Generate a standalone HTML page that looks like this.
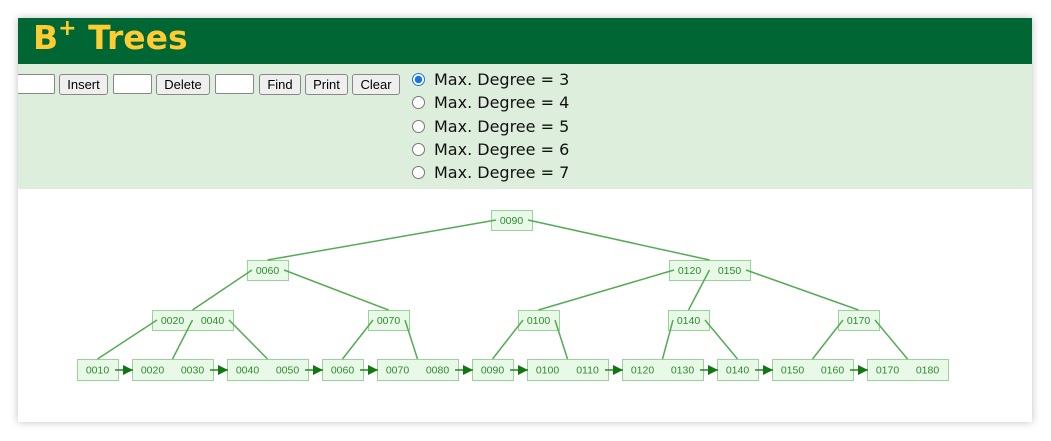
<!DOCTYPE html>
<html><head><meta charset="utf-8"><style>
body{margin:0;width:1051px;height:441px;background:#fff;position:relative;overflow:hidden;font-family:"Liberation Sans",sans-serif}
#card{position:absolute;left:18px;top:18px;width:1014px;height:404px;background:#fff;box-shadow:0 0 8px rgba(0,0,0,.25);overflow:hidden}
#hdr{position:absolute;left:0;top:0;width:1014px;height:46px;background:#006633}
#hdr h1{margin:0;position:absolute;left:15px;top:-6px;color:#ffcc33;font-size:33px;font-weight:bold;line-height:38px;font-family:"DejaVu Sans","Liberation Sans",sans-serif}
#hdr sup{font-size:22px;position:relative;top:-2px}
#ctl{position:absolute;left:0;top:46px;width:1014px;height:125px;background:#ddeedd;overflow:hidden}
.in{position:absolute;top:10px;height:20px;background:#fff;border:1px solid #888;border-radius:2px;box-sizing:border-box}
.bt{position:absolute;top:10px;height:21px;background:#efefef;border:1px solid #888;border-radius:3px;box-sizing:border-box;font-size:13px;line-height:19px;text-align:center;color:#000}
.r{position:absolute;left:394px;font-size:16px;color:#111;height:20px;line-height:20px;font-family:"DejaVu Sans",sans-serif}
.r i{position:absolute;left:0;top:3px;width:11px;height:11px;border:1px solid #777;border-radius:50%;background:#fff}
.r span{position:absolute;left:22px;white-space:nowrap}
</style></head><body>
<div id="card">
<div id="hdr"><h1>B<sup>+</sup> Trees</h1></div>
<div id="ctl">
<div class="in" style="left:-2px;width:39px"></div>
<div class="bt" style="left:41px;width:49px">Insert</div>
<div class="in" style="left:95px;width:39px"></div>
<div class="bt" style="left:138px;width:54px">Delete</div>
<div class="in" style="left:197px;width:39px"></div>
<div class="bt" style="left:241px;width:42px">Find</div>
<div class="bt" style="left:287px;width:43px">Print</div>
<div class="bt" style="left:334px;width:48px">Clear</div>
<div class="r" style="top:6px"><i style="border-color:#1a73e8;background:radial-gradient(circle,#1a73e8 45%,#fff 50%)"></i><span>Max. Degree = 3</span></div>
<div class="r" style="top:29px"><i></i><span>Max. Degree = 4</span></div>
<div class="r" style="top:53px"><i></i><span>Max. Degree = 5</span></div>
<div class="r" style="top:76px"><i></i><span>Max. Degree = 6</span></div>
<div class="r" style="top:99px"><i></i><span>Max. Degree = 7</span></div>
</div>
</div>
<svg id="s" width="1051" height="441" style="position:absolute;left:0;top:0" font-family="Liberation Sans, sans-serif" font-size="10.5"></svg>
<script>
var N=[
["r",491,210,["0090"]],
["a",247,260,["0060"]],["b",669,260,["0120","0150"]],
["c",152,310,["0020","0040"]],["d",368,310,["0070"]],["e",518,310,["0100"]],["f",668,310,["0140"]],["g",838,310,["0170"]],
["l1",77,359,["0010"]],["l2",132,359,["0020","0030"]],["l3",227,359,["0040","0050"]],["l4",322,359,["0060"]],["l5",377,359,["0070","0080"]],
["l6",472,359,["0090"]],["l7",527,359,["0100","0110"]],["l8",622,359,["0120","0130"]],["l9",717,359,["0140"]],["l10",772,359,["0150","0160"]],["l11",867,359,["0170","0180"]]];
var M={};N.forEach(n=>M[n[0]]={x:n[1],y:n[2],k:n[3],w:n[3].length*40+1,h:n[2]==359?21:20});
var E={r:["a","b"],a:["c","d"],b:["e","f","g"],c:["l1","l2","l3"],d:["l4","l5"],e:["l6","l7"],f:["l8","l9"],g:["l10","l11"]};
var h='<defs><marker id="ar" markerWidth="10" markerHeight="10" refX="10" refY="5" orient="auto" markerUnits="userSpaceOnUse"><path d="M0,0L10,5L0,10z" fill="#117711"/></marker></defs>';
N.forEach(n=>{var m=M[n[0]];h+='<rect x="'+m.x+'.5" y="'+m.y+'.5" width="'+m.w+'" height="'+m.h+'" fill="#e8f9e8" stroke="#99d399"/>';
m.k.forEach((k,i)=>{h+='<text x="'+(m.x+20.5+40*i)+'" y="'+(m.y+m.h/2+4)+'" text-anchor="middle" fill="#2e8b2e">'+k+'</text>';});});
for(var p in E){var P=M[p];E[p].forEach((c,i)=>{var C=M[c];var sx=P.x+(i==0?5:i==P.k.length?P.w-4:40*i+0.5);
h+='<line x1="'+sx+'" y1="'+(P.y+10)+'" x2="'+(C.x+C.w/2)+'" y2="'+C.y+'" stroke="#55aa55" stroke-width="1.5"/>';});}
for(var i=1;i<11;i++){var a=M["l"+i],b=M["l"+(i+1)];h+='<line x1="'+(a.x+a.w-3)+'" y1="370" x2="'+(b.x+1)+'" y2="370" stroke="#228822" stroke-width="1.5" marker-end="url(#ar)"/>';}
document.getElementById("s").innerHTML=h;
</script>
</body></html>
